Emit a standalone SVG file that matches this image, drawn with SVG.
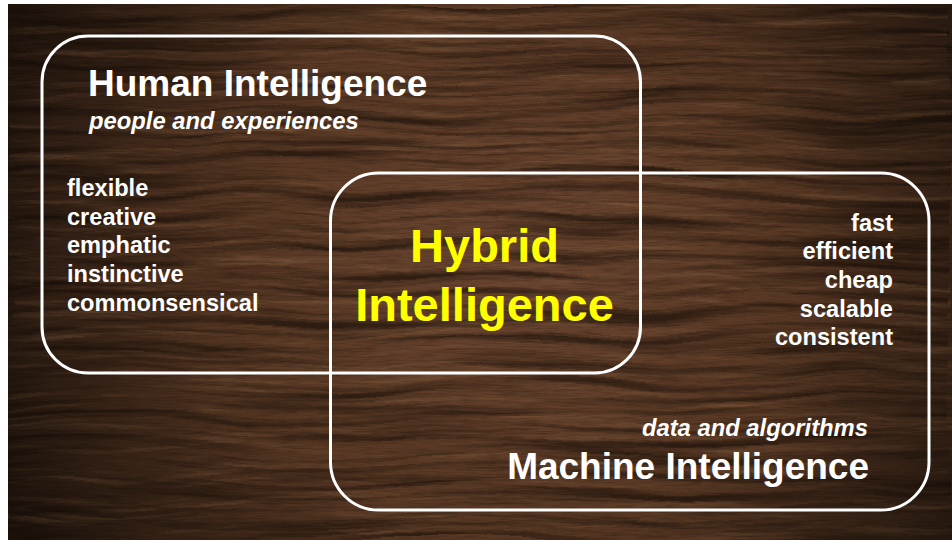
<svg xmlns="http://www.w3.org/2000/svg" width="952" height="540" viewBox="0 0 952 540">
  <defs>
    <style>
      .frame { fill: none; stroke: #ffffff; stroke-width: 3; }
      .title { font-family: "Liberation Sans", Arial, sans-serif; font-weight: bold; font-size: 37px; fill: #ffffff; }
      .sub { font-family: "Liberation Sans", Arial, sans-serif; font-weight: bold; font-style: italic; font-size: 23.8px; fill: #ffffff; }
      .item { font-family: "Liberation Sans", Arial, sans-serif; font-weight: bold; font-size: 23.6px; fill: #ffffff; }
      .hybrid { font-family: "Liberation Sans", Arial, sans-serif; font-weight: bold; font-size: 47px; fill: #ffff00; text-anchor: middle; }
      .end { text-anchor: end; }
    </style>
    <!-- warm centre fading to dark edges -->
    <radialGradient id="woodTone" cx="520" cy="260" r="600" gradientUnits="userSpaceOnUse">
      <stop offset="0" stop-color="#6a4530"/>
      <stop offset="0.45" stop-color="#573824"/>
      <stop offset="0.8" stop-color="#3a2518"/>
      <stop offset="1" stop-color="#24170e"/>
    </radialGradient>
    <!-- fine, slightly wavy horizontal grain: dark streaks -->
    <filter id="grainDark" x="0" y="0" width="1" height="1" color-interpolation-filters="sRGB">
      <feTurbulence type="fractalNoise" baseFrequency="0.004 0.11" numOctaves="5" seed="7" result="streaks"/>
      <feTurbulence type="fractalNoise" baseFrequency="0.005 0.008" numOctaves="2" seed="3" result="warp"/>
      <feDisplacementMap in="streaks" in2="warp" scale="28" xChannelSelector="R" yChannelSelector="G" result="wavy"/>
      <feColorMatrix in="wavy" type="matrix" values="0 0 0 0 0.09  0 0 0 0 0.055  0 0 0 0 0.03  2.8 0 0 0 -1.2"/>
    </filter>
    <!-- lighter streaks -->
    <filter id="grainLight" x="0" y="0" width="1" height="1" color-interpolation-filters="sRGB">
      <feTurbulence type="fractalNoise" baseFrequency="0.006 0.14" numOctaves="5" seed="21" result="streaks"/>
      <feTurbulence type="fractalNoise" baseFrequency="0.006 0.009" numOctaves="2" seed="11" result="warp"/>
      <feDisplacementMap in="streaks" in2="warp" scale="24" xChannelSelector="R" yChannelSelector="G" result="wavy"/>
      <feColorMatrix in="wavy" type="matrix" values="0 0 0 0 0.56  0 0 0 0 0.40  0 0 0 0 0.27  2.4 0 0 0 -1.22"/>
    </filter>
    <!-- pores / speckle -->
    <filter id="speckle" x="0" y="0" width="1" height="1" color-interpolation-filters="sRGB">
      <feTurbulence type="fractalNoise" baseFrequency="0.05 0.6" numOctaves="2" seed="5" result="n"/>
      <feColorMatrix in="n" type="matrix" values="0 0 0 0 0.1  0 0 0 0 0.06  0 0 0 0 0.03  1.6 0 0 0 -0.7"/>
    </filter>
    <radialGradient id="vignette" cx="500" cy="250" r="620" gradientUnits="userSpaceOnUse">
      <stop offset="0.5" stop-color="#000000" stop-opacity="0"/>
      <stop offset="1" stop-color="#000000" stop-opacity="0.4"/>
    </radialGradient>
  </defs>

  <!-- page -->
  <rect x="0" y="0" width="952" height="540" fill="#ffffff"/>

  <!-- wooden backdrop -->
  <g id="backdrop">
    <rect x="8" y="4" width="944" height="536" fill="url(#woodTone)"/>
    <rect x="8" y="4" width="944" height="536" fill="#000" filter="url(#grainLight)" opacity="0.5"/>
    <rect x="8" y="4" width="944" height="536" fill="#000" filter="url(#grainDark)" opacity="0.65"/>
    <rect x="8" y="4" width="944" height="536" fill="#000" filter="url(#speckle)" opacity="0.35"/>
    <rect x="8" y="4" width="944" height="536" fill="url(#vignette)"/>
  </g>

  <g id="human-intelligence">
    <rect class="frame" x="42" y="36" width="598.5" height="337" rx="46" ry="46"/>
    <text class="title" x="88" y="96">Human Intelligence</text>
    <text class="sub" x="89" y="129">people and experiences</text>
    <text class="item" x="67" y="196">flexible</text>
    <text class="item" x="67" y="224.7">creative</text>
    <text class="item" x="67" y="253.3">emphatic</text>
    <text class="item" x="67" y="282">instinctive</text>
    <text class="item" x="67" y="310.7">commonsensical</text>
  </g>

  <g id="machine-intelligence">
    <rect class="frame" x="330.5" y="173" width="598.5" height="337" rx="48" ry="48"/>
    <text class="item end" x="893" y="230.7">fast</text>
    <text class="item end" x="893" y="259.3">efficient</text>
    <text class="item end" x="893" y="288">cheap</text>
    <text class="item end" x="893" y="316.7">scalable</text>
    <text class="item end" x="893" y="345.3">consistent</text>
    <text class="sub end" x="868" y="435.5">data and algorithms</text>
    <text class="title end" x="869" y="479">Machine Intelligence</text>
  </g>

  <g id="hybrid-intelligence">
    <text class="hybrid" x="484.5" y="262">Hybrid</text>
    <text class="hybrid" x="484.5" y="320.5">Intelligence</text>
  </g>
</svg>
